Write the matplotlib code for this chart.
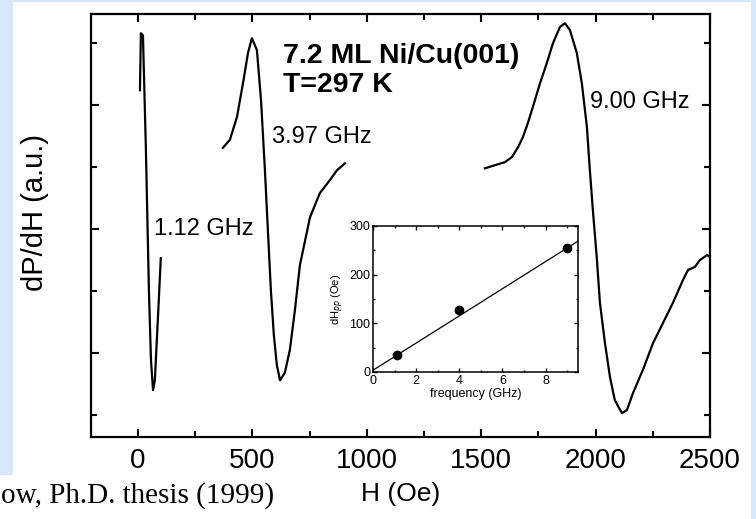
import matplotlib
matplotlib.use("Agg")
import matplotlib.pyplot as plt
from matplotlib.patches import Rectangle
from matplotlib.ticker import MultipleLocator, NullFormatter

plt.rcParams["font.family"] = ["Liberation Sans", "DejaVu Sans"]

# FMR derivative spectra dP/dH versus field H (Oe), arbitrary units
h_112 = [9, 13, 22, 35, 48, 57, 66, 74, 87, 100]
s_112 = [5.24, 6.16, 6.13, 4.27, 2.02, 0.89, 0.40, 0.56, 1.53, 2.53]

h_397 = [371, 402, 433, 459, 481, 498, 520, 538, 555, 568, 581, 594, 607,
         621, 642, 664, 686, 708, 752, 795, 839, 870, 905]
s_397 = [4.31, 4.44, 4.81, 5.35, 5.84, 6.08, 5.89, 5.08, 3.95, 2.98, 2.02,
         1.29, 0.81, 0.56, 0.68, 1.05, 1.69, 2.42, 3.19, 3.58, 3.79, 3.95,
         4.06]

h_900 = [1516, 1560, 1604, 1634, 1661, 1682, 1704, 1726, 1757, 1787, 1814,
         1844, 1866, 1888, 1918, 1940, 1962, 1975, 1988, 2006, 2019, 2041,
         2063, 2084, 2115, 2137, 2163, 2207, 2251, 2294, 2338, 2382, 2404,
         2434, 2456, 2487, 2500]
s_900 = [3.98, 4.03, 4.08, 4.16, 4.32, 4.48, 4.71, 4.97, 5.35, 5.68, 6.00,
         6.26, 6.32, 6.21, 5.84, 5.35, 4.65, 3.95, 3.31, 2.50, 1.81, 1.16,
         0.61, 0.24, 0.03, 0.08, 0.35, 0.73, 1.16, 1.48, 1.81, 2.18, 2.34,
         2.39, 2.50, 2.58, 2.55]

# Peak-to-peak linewidth versus microwave frequency
freq = [1.12, 3.97, 9.00]
dh_pp = [35, 128, 255]
fit_f = [0.0, 9.5]
fit_dh = [3.7, 268.8]

x_ticks = [0, 500, 1000, 1500, 2000, 2500]

W, H = 756, 519
fig = plt.figure(figsize=(W / 100, H / 100), dpi=100)
fig.patch.set_facecolor("#d6e7fa")
fig.add_artist(Rectangle((13 / W, 0), 738 / W, 1 - 2 / H, transform=fig.transFigure,
                         facecolor="white", edgecolor="none", zorder=0))
fig.add_artist(Rectangle((0, 0), 751 / W, 44 / H, transform=fig.transFigure,
                         facecolor="white", edgecolor="none", zorder=0))

ax = fig.add_axes([91 / W, 1 - 437 / H, 619 / W, 423 / H])
ax.set_facecolor("none")
for data_h, data_s in ((h_112, s_112), (h_397, s_397), (h_900, s_900)):
    ax.plot(data_h, data_s, color="black", lw=1.6, solid_joinstyle="round")

ax.set_xlim(-205, 2500)
ax.set_ylim(-0.355, 6.47)
ax.set_xticks(x_ticks)
ax.set_xticklabels([str(t) for t in x_ticks])
ax.xaxis.set_minor_locator(MultipleLocator(250))
ax.yaxis.set_major_locator(MultipleLocator(2, offset=1))
ax.yaxis.set_minor_locator(MultipleLocator(1))
ax.yaxis.set_major_formatter(NullFormatter())
ax.tick_params(which="both", direction="in", top=True, right=True, width=1.5,
               labelsize=20, pad=8)
ax.tick_params(which="major", length=6)
ax.tick_params(which="minor", length=4)
for sp in ax.spines.values():
    sp.set_linewidth(1.6)

ax.set_xlabel("H (Oe)", fontsize=19, labelpad=6)
ax.set_ylabel("dP/dH (a.u.)", fontsize=21)
ax.yaxis.set_label_coords(-0.068, 0.53)

ax.text(70, 2.90, "1.12 GHz", fontsize=17)
ax.text(586, 4.39, "3.97 GHz", fontsize=17)
ax.text(1975, 4.95, "9.00 GHz", fontsize=17)
ax.text(634, 5.68, "7.2 ML Ni/Cu(001)", fontsize=20.5, fontweight="bold")
ax.text(634, 5.21, "T=297 K", fontsize=20.5, fontweight="bold")

# Inset: linewidth vs frequency
ins = fig.add_axes([373 / W, 1 - 372 / H, 205 / W, 146 / H])
ins.plot(fit_f, fit_dh, color="black", lw=0.9)
ins.plot(freq, dh_pp, "o", color="black", ms=6)
ins.set_xlim(0, 9.5)
ins.set_ylim(0, 300)
ins.set_xticks([0, 2, 4, 6, 8])
ins.set_yticks([0, 100, 200, 300])
ins.xaxis.set_minor_locator(MultipleLocator(1))
ins.yaxis.set_minor_locator(MultipleLocator(50))
ins.tick_params(which="both", direction="in", top=True, right=True, width=1.0,
                labelsize=9, pad=2)
ins.tick_params(which="major", length=3)
ins.tick_params(which="minor", length=1.5)
for sp in ins.spines.values():
    sp.set_linewidth(1.1)
ins.set_xlabel("frequency (GHz)", fontsize=9, labelpad=1)
ins.set_ylabel(r"dH$_{pp}$ (Oe)", fontsize=8, labelpad=2)

fig.text(1 / W, 1 - 503 / H, "ow, Ph.D. thesis (1999)", fontsize=21,
         family=["Liberation Serif", "DejaVu Serif"], va="baseline", ha="left")

fig.savefig("out.png", dpi=100, facecolor=fig.get_facecolor())
